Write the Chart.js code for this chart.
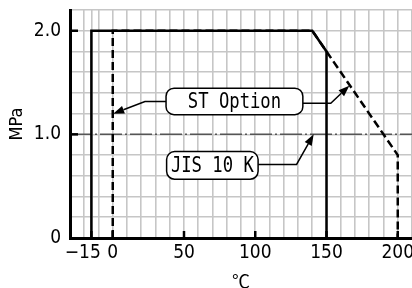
<!DOCTYPE html>
<html lang="ja">
<head>
<meta charset="UTF-8">
<title>Pressure - Temperature</title>
<script src="https://cdn.jsdelivr.net/npm/chart.js"></script>
<style>
  html, body { margin: 0; padding: 0; background: #fff; }
  #wrap { width: 412px; height: 288px; }
</style>
</head>
<body>
<div id="wrap"><canvas id="ptChart" width="412" height="288"></canvas></div>
<script>
// temperature (℃) / pressure (MPa)
const jisTemp  = [-15, -15, 140, 150, 150];
const jisPress = [0, 2.0, 2.0, 1.8, 0];
const stTemp   = [0, 0, 140, 150, 200, 200];
const stPress  = [0, 2.0, 2.0, 1.8, 0.8, 0];
const refTemp  = [-30, 210];
const refPress = [1.0, 1.0];
const xLabels  = [-15, 0, 50, 100, 150, 200];
const yLabels  = [0, 1.0, 2.0];

// callouts, in data units: box corners and arrow paths ending at the tip
const callouts = [
  { text: 'ST Option', box: [37.4, 1.19, 133.4, 1.445],
    arrows: [[[37.4, 1.317], [22.6, 1.317], [0.3, 1.2]],
             [[133.4, 1.30], [153, 1.30], [166, 1.47]]] },
  { text: 'JIS 10 K', box: [37.8, 0.567, 102, 0.834],
    arrows: [[[102, 0.71], [129, 0.71], [141, 1.0]]] }
];

const pts = (xs, ys) => xs.map((x, i) => ({ x: x, y: ys[i] }));
const tickFont = { family: "'Liberation Sans Narrow', 'DejaVu Sans Condensed', sans-serif", size: 19 };

function arrow(ctx, path) {
  const n = path.length;
  const [tx, ty] = path[n - 1];
  const [px, py] = path[n - 2];
  const ang = Math.atan2(ty - py, tx - px);
  const len = 11, half = 4;
  const bx = tx - Math.cos(ang) * len, by = ty - Math.sin(ang) * len;
  ctx.beginPath();
  ctx.moveTo(path[0][0], path[0][1]);
  for (let i = 1; i < n - 1; i++) ctx.lineTo(path[i][0], path[i][1]);
  ctx.lineTo(bx, by);
  ctx.stroke();
  ctx.beginPath();
  ctx.moveTo(tx, ty);
  ctx.lineTo(bx + Math.sin(ang) * half, by - Math.cos(ang) * half);
  ctx.lineTo(bx - Math.sin(ang) * half, by + Math.cos(ang) * half);
  ctx.closePath();
  ctx.fill();
}

const extras = {
  id: 'extras',
  afterDatasetsDraw(chart) {
    const { ctx, scales: { x, y } } = chart;
    ctx.save();
    // inward ticks
    ctx.strokeStyle = '#000';
    ctx.lineWidth = 2.5;
    xLabels.forEach(v => {
      const px = x.getPixelForValue(v);
      ctx.beginPath(); ctx.moveTo(px, y.bottom); ctx.lineTo(px, y.bottom - 7); ctx.stroke();
    });
    yLabels.filter(v => v > 0).forEach(v => {
      const py = y.getPixelForValue(v);
      ctx.beginPath(); ctx.moveTo(x.left, py); ctx.lineTo(x.left + 8, py); ctx.stroke();
    });
    // callouts
    callouts.forEach(c => {
      const x0 = x.getPixelForValue(c.box[0]), x1 = x.getPixelForValue(c.box[2]);
      const y0 = y.getPixelForValue(c.box[3]), y1 = y.getPixelForValue(c.box[1]);
      ctx.lineWidth = 1.5;
      ctx.fillStyle = '#000';
      c.arrows.forEach(a => arrow(ctx, a.map(p => [x.getPixelForValue(p[0]), y.getPixelForValue(p[1])])));
      ctx.beginPath();
      ctx.roundRect(x0, y0, x1 - x0, y1 - y0, 8);
      ctx.fillStyle = '#fff';
      ctx.fill();
      ctx.stroke();
      ctx.save();
      ctx.translate((x0 + x1) / 2, (y0 + y1) / 2 + 1);
      ctx.scale(0.82, 1);
      ctx.fillStyle = '#000';
      ctx.font = "21px 'DejaVu Sans Mono', monospace";
      ctx.textAlign = 'center';
      ctx.textBaseline = 'middle';
      ctx.fillText(c.text, 0, 0);
      ctx.restore();
    });
    ctx.restore();
  }
};

new Chart(document.getElementById('ptChart'), {
  type: 'line',
  data: {
    datasets: [
      { label: 'JIS 10 K', data: pts(jisTemp, jisPress), borderColor: '#000', borderWidth: 2.5,
        pointRadius: 0, fill: false, tension: 0, order: 1 },
      { label: 'ST Option', data: pts(stTemp, stPress), borderColor: '#000', borderWidth: 2.5,
        borderDash: [8, 4], pointRadius: 0, fill: false, tension: 0, order: 2 },
      { label: '1.0', data: pts(refTemp, refPress), borderColor: '#555', borderWidth: 1.5,
        borderDash: [22, 3, 2, 3], pointRadius: 0, fill: false, order: 3 }
    ]
  },
  options: {
    responsive: false,
    animation: false,
    layout: { padding: { top: 10, right: 0, left: 0, bottom: 0 } },
    plugins: { legend: { display: false }, tooltip: { enabled: false } },
    scales: {
      x: {
        type: 'linear', min: -30, max: 210,
        afterFit: s => { s.height = 50; s.paddingLeft = 0; s.paddingRight = 0; },
        afterBuildTicks: s => {
          xLabels.forEach(v => { if (!s.ticks.some(t => t.value === v)) s.ticks.push({ value: v }); });
          s.ticks.sort((a, b) => a.value - b.value);
        },
        ticks: {
          stepSize: 10, maxTicksLimit: 100, autoSkip: false, maxRotation: 0, padding: 4, color: '#000', font: tickFont,
          callback: v => xLabels.includes(v) ? (v < 0 ? '\u2212' + Math.abs(v) + '\u2003' : String(v)) : ''
        },
        grid: { color: '#c6c6c6', lineWidth: 1.6, drawTicks: false },
        border: { color: '#000', width: 3 },
        title: { display: true, text: '℃', color: '#000', padding: { top: 0, bottom: -4 },
                 font: { family: "'Noto Sans CJK JP', sans-serif", size: 18 } }
      },
      y: {
        min: 0, max: 2.2,
        afterFit: s => { s.width = 70; s.paddingTop = 0; s.paddingBottom = 0; },
        ticks: {
          stepSize: 0.2, maxTicksLimit: 100, autoSkip: false, padding: 9, color: '#000', font: tickFont,
          callback: v => {
            const r = Math.round(v * 10) / 10;
            return yLabels.includes(r) ? (r === 0 ? '0' : r.toFixed(1)) : '';
          }
        },
        grid: { color: '#c6c6c6', lineWidth: 1.6, drawTicks: false },
        border: { color: '#000', width: 3 },
        title: { display: true, text: 'MPa', color: '#000', padding: { top: 7, bottom: 0 },
                 font: { family: "'Liberation Sans Narrow', 'DejaVu Sans Condensed', sans-serif", size: 18 } }
      }
    }
  },
  plugins: [extras]
});
</script>
</body>
</html>
